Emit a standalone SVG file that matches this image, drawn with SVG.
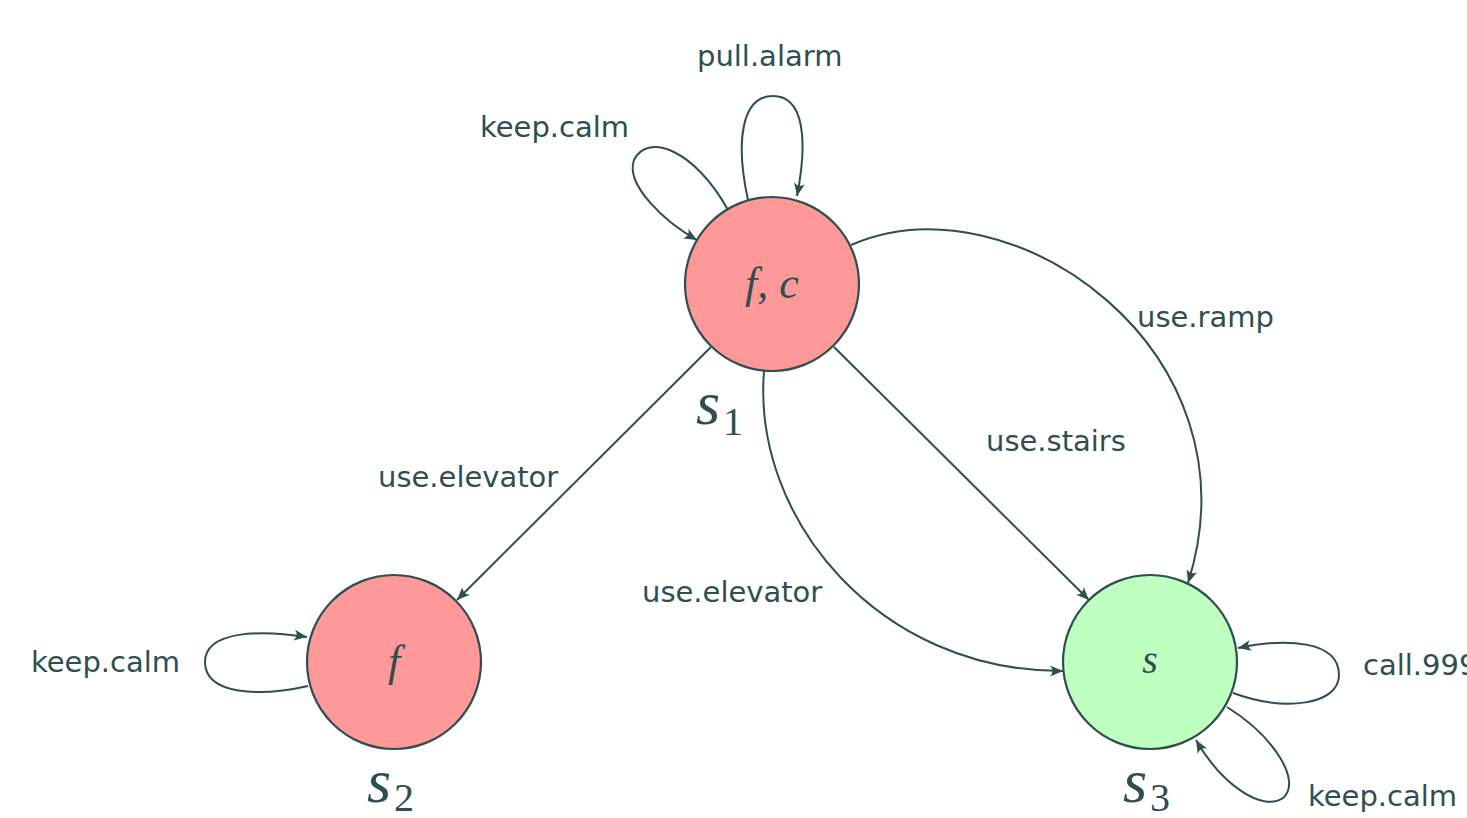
<svg xmlns="http://www.w3.org/2000/svg" width="1467" height="818" viewBox="0 0 1467 818">
<style>
.node{stroke:#2F4F4F;stroke-width:2.2}
.red{fill:#FF9999}
.green{fill:#BFFFBF}
.edge{fill:none;stroke:#2F4F4F;stroke-width:2;marker-end:url(#arr)}
.lbl{font-family:"DejaVu Sans","Liberation Sans",sans-serif;font-size:29px;fill:#2F4F4F}
.math{font-family:"Liberation Serif",serif;font-style:italic;fill:#2F4F4F}
.sub{font-family:"Liberation Serif",serif;fill:#2F4F4F}
</style>
<defs>
<marker id="arr" markerUnits="userSpaceOnUse" viewBox="-14 -7 16 14" refX="0" refY="0" markerWidth="16" markerHeight="14" orient="auto">
<path d="M0,0 L-13,-5.5 Q-8,0 -13,5.5 Z" fill="#2F4F4F"/>
</marker>
</defs>
<rect width="1467" height="818" fill="#ffffff"/>
<g id="connectors">
<path class="edge" d="M711,347 L457,600"/>
<path class="edge" d="M834,347 L1089,600"/>
<path class="edge" d="M764,371 C752,520 880,672 1063,671"/>
<path class="edge" d="M851,245 C1010,175 1262,350 1188,583"/>
<path class="edge" d="M748,200 C735,140 742,96 773,96 C804,96 808,140 797,196"/>
<path class="edge" d="M728,210 C695,150 648,132 634,160 C625,185 665,222 697,240"/>
<path class="edge" d="M308,686 C260,697 205,695 205,662 C205,630 262,630 307,637"/>
<path class="edge" d="M1233,693 C1285,712 1339,705 1339,675 C1339,640 1285,638 1238,648"/>
<path class="edge" d="M1227,707 C1275,737 1302,782 1283,798 C1262,812 1222,785 1196,740"/>
<text class="lbl" x="378" y="487">use.elevator</text>
<text class="lbl" x="986" y="451">use.stairs</text>
<text class="lbl" x="642" y="602">use.elevator</text>
<text class="lbl" x="1137" y="327">use.ramp</text>
<text class="lbl" x="697" y="66">pull.alarm</text>
<text class="lbl" x="480" y="137">keep.calm</text>
<text class="lbl" x="31" y="672">keep.calm</text>
<text class="lbl" x="1363" y="675">call.999</text>
<text class="lbl" x="1308" y="806">keep.calm</text>
</g>
<g id="s1">
<circle class="node red" cx="772" cy="284" r="87"/>
<text class="math" x="772" y="298" font-size="44" text-anchor="middle">f, c</text>
<text class="math" x="696" y="424" font-size="62">s</text>
<text class="sub" x="723" y="435" font-size="40">1</text>
</g>
<g id="s2">
<circle class="node red" cx="394" cy="662" r="87"/>
<text class="math" x="394" y="676" font-size="44" text-anchor="middle">f</text>
<text class="math" x="367" y="802" font-size="62">s</text>
<text class="sub" x="394" y="811" font-size="40">2</text>
</g>
<g id="s3">
<circle class="node green" cx="1150" cy="662" r="87"/>
<text class="math" x="1150" y="673" font-size="40" text-anchor="middle">s</text>
<text class="math" x="1123" y="802" font-size="62">s</text>
<text class="sub" x="1150" y="811" font-size="40">3</text>
</g>
</svg>
